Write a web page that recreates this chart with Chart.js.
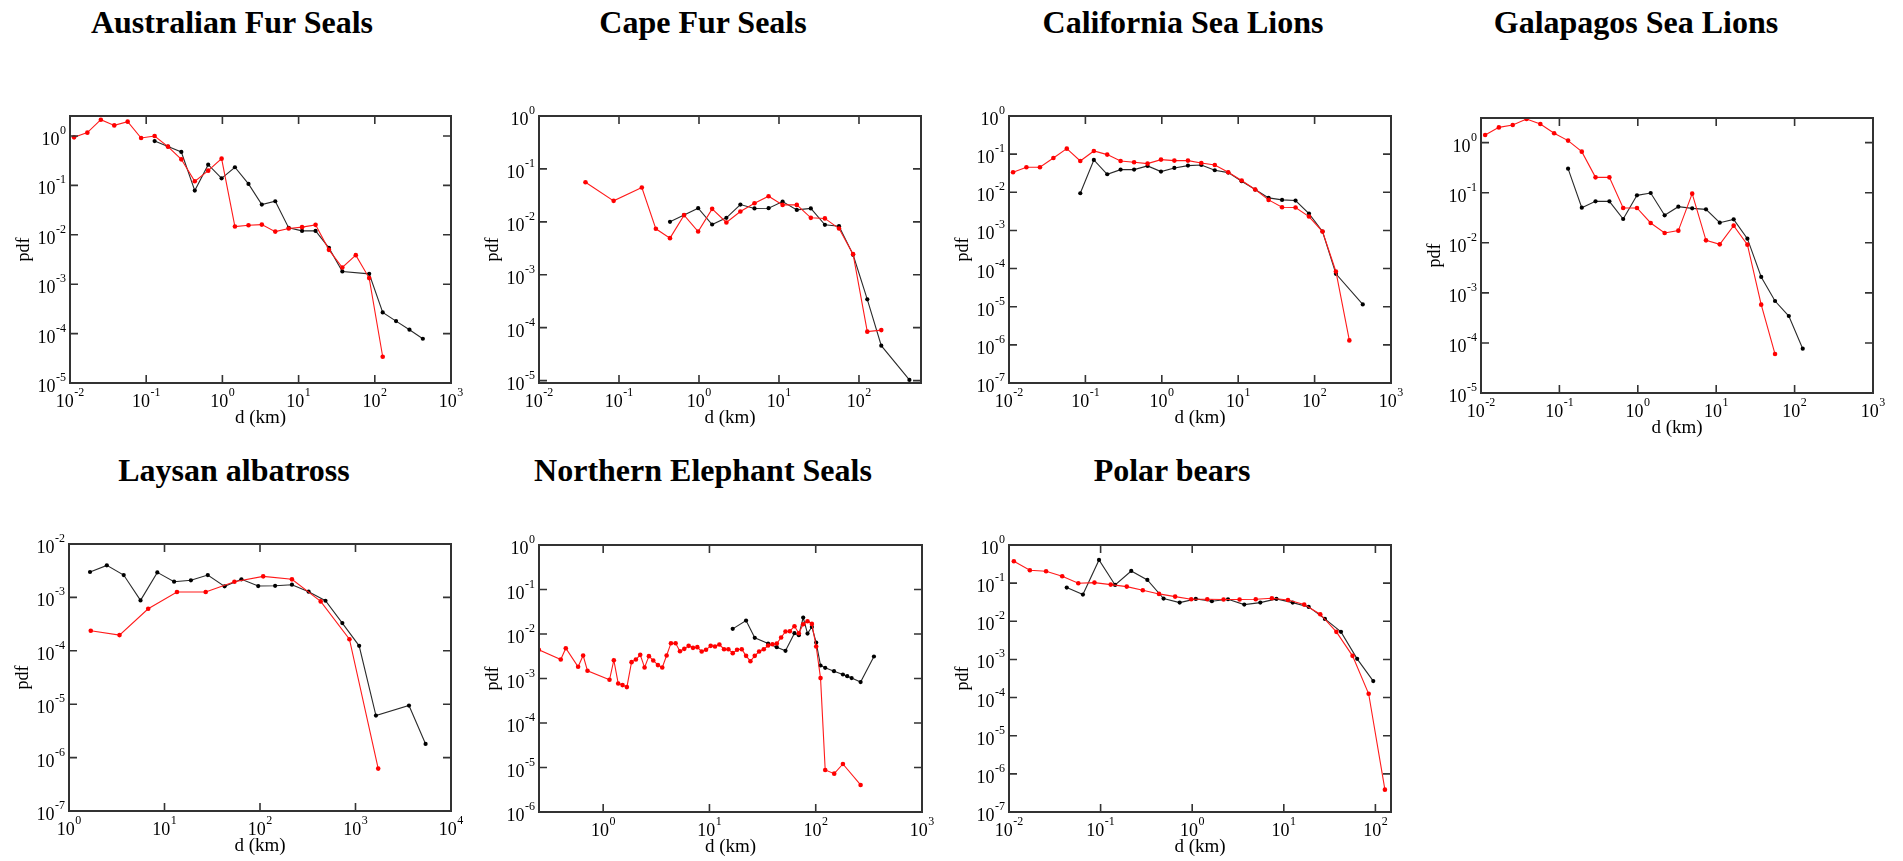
<!DOCTYPE html>
<html><head><meta charset="utf-8">
<script src="https://cdn.jsdelivr.net/npm/chart.js@4.4.1/dist/chart.umd.min.js"></script>
<style>
html,body{margin:0;padding:0;background:#fff;width:1903px;height:861px;overflow:hidden;}
canvas{position:absolute;}
.title{position:absolute;font:bold 32px "Liberation Serif","Times New Roman",serif;color:#000;white-space:nowrap;line-height:32px;transform:translateX(-50%);}
</style></head><body>
<script>
// ---- data (d in km, pdf) ----
const afsRedX = [0.0113,0.0169,0.0254,0.0381,0.0571,0.0857,0.129,0.193,0.289,0.434,0.651,0.976,1.46,2.20,3.29,4.94,7.41,11.1,16.7,25.0,37.5,56.3,84.4,127];
const afsRedY = [0.94,1.17,2.14,1.64,1.95,0.91,1.0,0.61,0.337,0.121,0.199,0.348,0.0147,0.0156,0.0161,0.0116,0.0134,0.0143,0.0159,0.00496,0.00218,0.00387,0.00133,3.4e-5];
const afsBlackX = [0.129,0.193,0.289,0.434,0.651,0.976,1.46,2.20,3.29,4.94,7.41,11.1,16.7,25.0,37.5,84.4,127,190,285,427];
const afsBlackY = [0.79,0.61,0.475,0.0785,0.263,0.139,0.233,0.107,0.0409,0.0478,0.0138,0.0120,0.0120,0.00544,0.00181,0.00162,2.68e-4,1.79e-4,1.20e-4,7.87e-5];

const cfsRedX = [0.0381,0.0857,0.193,0.289,0.434,0.651,0.976,1.46,2.20,3.29,4.94,7.41,11.1,16.7,25.0,37.5,56.3,84.4,127,190];
const cfsRedY = [0.056,0.0249,0.0445,0.00738,0.00492,0.0134,0.00657,0.0176,0.00971,0.0157,0.0225,0.0305,0.0209,0.0209,0.0119,0.0116,0.00748,0.00245,8.4e-5,9.0e-5];
const cfsBlackX = [0.434,0.651,0.976,1.46,2.20,3.29,4.94,7.41,11.1,16.7,25.0,37.5,56.3,84.4,127,190,427];
const cfsBlackY = [0.0100,0.0134,0.0181,0.0089,0.0119,0.0212,0.0179,0.0181,0.0242,0.0168,0.0179,0.00878,0.00828,0.00238,3.43e-4,4.57e-5,1.03e-5];

const cslRedX = [0.0113,0.0169,0.0254,0.0381,0.0571,0.0857,0.129,0.193,0.289,0.434,0.651,0.976,1.46,2.20,3.29,4.94,7.41,11.1,16.7,25.0,37.5,56.3,84.4,127,190,285];
const cslRedY = [0.0335,0.0453,0.0453,0.0795,0.1395,0.0663,0.1212,0.0972,0.0663,0.0612,0.0565,0.0719,0.0677,0.0677,0.0588,0.0521,0.0335,0.0203,0.01178,0.00632,0.00406,0.00398,0.00231,9.36e-4,8.39e-5,1.31e-6];
const cslBlackX = [0.0857,0.129,0.193,0.289,0.434,0.651,0.976,1.46,2.20,3.29,4.94,7.41,11.1,16.7,25.0,37.5,56.3,84.4,127,190,427];
const cslBlackY = [0.00944,0.0705,0.0297,0.0393,0.0393,0.0491,0.0349,0.0435,0.0501,0.0521,0.0378,0.0328,0.01947,0.01178,0.00713,0.00632,0.00607,0.00277,9.36e-4,7.29e-5,1.15e-5];

const gslRedX = [0.0113,0.0169,0.0254,0.0381,0.0571,0.0857,0.129,0.193,0.289,0.434,0.651,0.976,1.46,2.20,3.29,4.94,7.41,11.1,16.7,25.0,37.5,56.3];
const gslRedY = [1.42,2.02,2.25,2.97,2.36,1.54,1.10,0.661,0.203,0.203,0.0496,0.0496,0.0249,0.0157,0.0175,0.0958,0.0112,0.00932,0.022,0.00918,5.81e-4,6.0e-5];
const gslBlackX = [0.129,0.193,0.289,0.434,0.651,0.976,1.46,2.20,3.29,4.94,7.41,11.1,16.7,25.0,37.5,56.3,84.4,127];
const gslBlackY = [0.3025,0.0503,0.0673,0.0673,0.0299,0.0887,0.0988,0.0354,0.0527,0.0488,0.0466,0.0252,0.0294,0.0121,0.00208,6.88e-4,3.45e-4,7.68e-5];

const laRedX = [1.69,3.38,6.75,13.5,27.0,54.0,108,216,432,864,1729];
const laRedY = [2.37e-4,1.97e-4,6.13e-4,1.26e-3,1.26e-3,1.97e-3,2.48e-3,2.18e-3,8.41e-4,1.65e-4,6.22e-7];
const laBlackX = [1.66,2.49,3.74,5.61,8.41,12.6,18.9,28.4,42.6,63.9,95.8,144,216,323,485,728,1092,1637,3630,5420];
const laBlackY = [2.99e-3,3.98e-3,2.62e-3,8.79e-4,2.94e-3,1.97e-3,2.09e-3,2.62e-3,1.61e-3,2.18e-3,1.63e-3,1.65e-3,1.73e-3,1.28e-3,8.66e-4,3.30e-4,1.24e-4,6.13e-6,9.44e-6,1.80e-6];

const nesRedX = [0.248,0.399,0.445,0.581,0.648,0.712,1.147,1.260,1.385,1.521,1.671,1.849,2.032,2.232,2.452,2.694,2.960,3.275,3.598,3.954,4.343,4.805,5.279,5.800,6.372,7.001,7.691,8.450,9.284,10.27,11.28,12.40,13.72,15.07,16.56,18.19,20.13,22.11,24.29,26.69,29.33,32.44,35.65,39.16,43.03,47.27,51.94,57.06,63.12,69.34,76.20,83.72,91.97,101.0,111.0,122.8,149.3,180.2,264.4];
const nesRedY = [4.41e-3,2.67e-3,4.80e-3,1.83e-3,3.29e-3,1.49e-3,9.35e-4,2.58e-3,7.74e-4,7.10e-4,6.40e-4,2.33e-3,2.67e-3,3.40e-3,1.77e-3,3.18e-3,2.54e-3,2.00e-3,1.77e-3,3.29e-3,6.22e-3,6.22e-3,4.11e-3,4.64e-3,5.42e-3,4.89e-3,5.06e-3,4.04e-3,4.41e-3,5.42e-3,5.23e-3,5.80e-3,4.56e-3,4.56e-3,3.71e-3,4.41e-3,4.56e-3,3.23e-3,2.45e-3,3.23e-3,4.04e-3,4.56e-3,5.51e-3,5.90e-3,6.11e-3,8.33e-3,1.136e-2,1.155e-2,1.496e-2,1.042e-2,1.660e-2,1.937e-2,1.688e-2,5.23e-3,1.02e-3,8.79e-6,7.27e-6,1.20e-5,4.05e-6];
const nesBlackX = [16.56,22.11,26.69,35.65,43.03,51.94,63.12,69.34,76.20,83.72,91.97,101.0,111.0,122.8,148.6,180.2,198.0,217.6,264.4,353];
const nesBlackY = [0.01304,0.02005,8.19e-3,6.11e-3,5.06e-3,4.18e-3,1.042e-2,9.40e-3,0.02342,0.01024,0.01445,6.43e-3,1.96e-3,1.74e-3,1.46e-3,1.23e-3,1.13e-3,1.02e-3,8.29e-4,3.12e-3];

const pbRedX = [0.0113,0.0169,0.0254,0.0381,0.0571,0.0857,0.129,0.193,0.289,0.434,0.651,0.976,1.46,2.20,3.29,4.94,7.41,11.1,16.7,25.0,37.5,56.3,84.4,127];
const pbRedY = [0.374,0.217,0.2045,0.151,0.0992,0.1032,0.0915,0.0811,0.0651,0.0522,0.0444,0.0378,0.0378,0.0371,0.0371,0.0378,0.0402,0.0363,0.0274,0.0153,0.00528,1.243e-3,1.257e-4,3.86e-7];
const pbBlackX = [0.0427,0.0641,0.0961,0.144,0.216,0.324,0.487,0.730,1.095,1.64,2.46,3.70,5.54,8.31,12.5,18.7,28.1,42.1,63.2,94.8];
const pbBlackY = [0.0764,0.0501,0.405,0.0897,0.2086,0.1213,0.0394,0.0309,0.0386,0.0335,0.0378,0.0274,0.0309,0.0386,0.0309,0.0238,0.01155,0.00528,1.037e-3,2.70e-4];

const titles = ['Australian Fur Seals','Cape Fur Seals','California Sea Lions','Galapagos Sea Lions','Laysan albatross','Northern Elephant Seals','Polar bears'];
const xLabel = 'd (km)';
const yLabel = 'pdf';

// ---- layout ----
const panels = [
 {t:0, tx:232, ty:33, L:70,  T:116, R:451,  B:383, x:[0.01,1000], y:[1e-5,2.54], red:[afsRedX,afsRedY], blk:[afsBlackX,afsBlackY]},
 {t:1, tx:703, ty:33, L:539, T:116, R:921,  B:383, x:[0.01,596],  y:[9.0e-6,1],  red:[cfsRedX,cfsRedY], blk:[cfsBlackX,cfsBlackY]},
 {t:2, tx:1183,ty:33, L:1009,T:116, R:1391, B:383, x:[0.01,1000], y:[1e-7,1],    red:[cslRedX,cslRedY], blk:[cslBlackX,cslBlackY]},
 {t:3, tx:1636,ty:33, L:1481,T:118, R:1873, B:393, x:[0.01,1000], y:[1e-5,3.11], red:[gslRedX,gslRedY], blk:[gslBlackX,gslBlackY]},
 {t:4, tx:234, ty:481,L:69,  T:544, R:451,  B:811, x:[1,1e4],     y:[1e-7,1e-2], red:[laRedX,laRedY],   blk:[laBlackX,laBlackY]},
 {t:5, tx:703, ty:481,L:539, T:545, R:922,  B:812, x:[0.249,1000],y:[1e-6,1],    red:[nesRedX,nesRedY], blk:[nesBlackX,nesBlackY]},
 {t:6, tx:1172,ty:481,L:1009,T:545, R:1391, B:812, x:[0.01,148],  y:[1e-7,1],    red:[pbRedX,pbRedY],   blk:[pbBlackX,pbBlackY]}
];
const PADL=70, PADR=20, PADT=10, PADB=50;
const FONT = '"Liberation Serif","Times New Roman",serif';

function decades(min,max){
  const a=[]; for(let e=Math.ceil(Math.log10(min)-1e-9); e<=Math.floor(Math.log10(max)+1e-9); e++) a.push(e); return a;
}
function pow10Label(ctx, e, x, base, align){
  ctx.font = '18px '+FONT; const w1 = ctx.measureText('10').width;
  const es = String(e);
  ctx.font = '12px '+FONT; const w2 = ctx.measureText(es).width;
  const tot = w1 + w2 + 0.5;
  let sx = align==='center' ? x - tot/2 : x - tot;
  ctx.textAlign='left'; ctx.textBaseline='alphabetic';
  ctx.font = '18px '+FONT; ctx.fillText('10', sx, base);
  ctx.font = '12px '+FONT; ctx.fillText(es, sx + w1 + 0.5, base - 11);
}
const decor = {
  id:'decor',
  afterDraw(chart){
    const ctx=chart.ctx, ca=chart.chartArea, xs=chart.scales.x, ys=chart.scales.y;
    ctx.save();
    ctx.strokeStyle='#333'; ctx.lineWidth=2;
    ctx.strokeRect(ca.left, ca.top, ca.right-ca.left, ca.bottom-ca.top);
    const xd=decades(xs.min,xs.max), yd=decades(ys.min,ys.max);
    ctx.lineWidth=1.6; ctx.beginPath();
    xd.forEach(e=>{const p=xs.getPixelForValue(Math.pow(10,e)); ctx.moveTo(p,ca.bottom); ctx.lineTo(p,ca.bottom-8); ctx.moveTo(p,ca.top); ctx.lineTo(p,ca.top+8);});
    yd.forEach(e=>{const p=ys.getPixelForValue(Math.pow(10,e)); ctx.moveTo(ca.left,p); ctx.lineTo(ca.left+8,p); ctx.moveTo(ca.right,p); ctx.lineTo(ca.right-8,p);});
    ctx.stroke();
    ctx.fillStyle='#000';
    xd.forEach(e=>pow10Label(ctx,e,xs.getPixelForValue(Math.pow(10,e)),ca.bottom+24,'center'));
    yd.forEach(e=>pow10Label(ctx,e,ca.left-4,ys.getPixelForValue(Math.pow(10,e))+9,'right'));
    ctx.font='19px '+FONT; ctx.textAlign='center'; ctx.textBaseline='alphabetic';
    ctx.fillText(xLabel,(ca.left+ca.right)/2,ca.bottom+40);
    ctx.save(); ctx.translate(ca.left-41,(ca.top+ca.bottom)/2); ctx.rotate(-Math.PI/2);
    ctx.font='18px '+FONT; ctx.fillText(yLabel,0,0); ctx.restore();
    ctx.restore();
  }
};
function pts(xa,ya){ return xa.map((v,i)=>({x:v,y:ya[i]})); }

panels.forEach(p=>{
  const d=document.createElement('div'); d.className='title'; d.textContent=titles[p.t];
  d.style.left=p.tx+'px'; d.style.top=(p.ty-27)+'px'; document.body.appendChild(d);
  const c=document.createElement('canvas');
  const W=p.R-p.L+PADL+PADR, H=p.B-p.T+PADT+PADB;
  c.width=W; c.height=H; c.style.left=(p.L-PADL)+'px'; c.style.top=(p.T-PADT)+'px';
  c.style.width=W+'px'; c.style.height=H+'px';
  document.body.appendChild(c);
  const axis=(mn,mx)=>({type:'logarithmic',min:mn,max:mx,display:true,
    ticks:{display:false},grid:{display:false,drawTicks:false},border:{display:false},title:{display:false}});
  new Chart(c,{
    type:'scatter',
    data:{datasets:[
      {data:pts(p.red[0],p.red[1]),showLine:true,borderColor:'#ff1a1a',borderWidth:1.1,pointRadius:2.3,pointBorderWidth:0,pointBackgroundColor:'#ff0000',tension:0},
      {data:pts(p.blk[0],p.blk[1]),showLine:true,borderColor:'#2a2a2a',borderWidth:1.1,pointRadius:2.1,pointBorderWidth:0,pointBackgroundColor:'#000',tension:0}
    ]},
    options:{responsive:false,animation:false,events:[],devicePixelRatio:1,
      layout:{padding:{left:PADL,right:PADR,top:PADT,bottom:PADB},autoPadding:false},
      plugins:{legend:{display:false},tooltip:{enabled:false},title:{display:false}},
      scales:{x:axis(p.x[0],p.x[1]),y:axis(p.y[0],p.y[1])}},
    plugins:[decor]
  });
});
</script>
</body></html>
